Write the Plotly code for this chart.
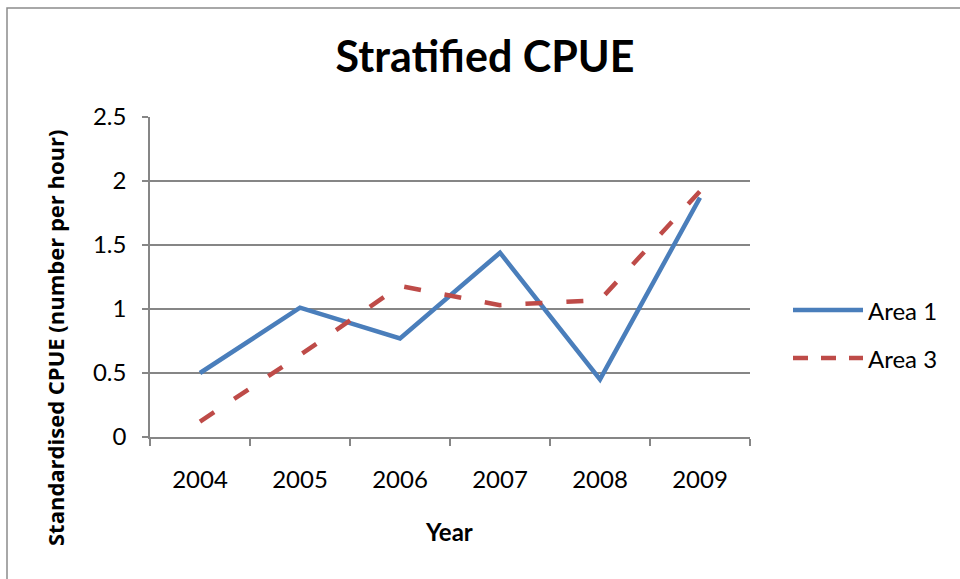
import plotly.graph_objects as go

# Survey years and standardised CPUE per area
years = ["2004", "2005", "2006", "2007", "2008", "2009"]
area1 = [0.50, 1.01, 0.77, 1.44, 0.45, 1.87]
area3 = [0.12, 0.64, 1.18, 1.03, 1.07, 1.92]
y_ticks = [0, 0.5, 1, 1.5, 2, 2.5]
y_tick_text = ["0", "0.5", "1", "1.5", "2", "2.5"]

BLUE = "#4A7EBB"
RED = "#BE4B48"
GRID = "#868686"
FONT = "Lato"

# plot area in pixels: x 150..750, y 117..437
L, R, T, B = 150, 750, 117, 437
W, H = R - L, B - T


def px_x(x):
    return (x - L) / W


def px_y(y):
    return (B - y) / H


fig = go.Figure()
fig.add_trace(go.Scatter(x=years, y=area1, mode="lines", name="Area 1",
                         line=dict(color=BLUE, width=4.5)))
fig.add_trace(go.Scatter(x=years, y=area3, mode="lines", name="Area 3",
                         line=dict(color=RED, width=4.5, dash="17px,24px")))

fig.update_layout(
    width=960, height=579,
    margin=dict(l=L, r=960 - R, t=T, b=579 - B),
    paper_bgcolor="white", plot_bgcolor="white",
    showlegend=False,
    font=dict(family=FONT, color="black"),
    title=dict(text="<b>Stratified CPUE</b>", x=485 / 960, xref="container",
               xanchor="center", y=1 - 57 / 579, yanchor="middle",
               font=dict(family=FONT, size=43, color="black")),
    xaxis=dict(type="category", range=[-0.5, 5.5], showgrid=False,
               showline=True, linecolor=GRID, linewidth=1.5,
               ticks="outside", ticklen=7, tickcolor=GRID, tickwidth=1.5,
               tickson="boundaries", ticklabelstandoff=20,
               tickfont=dict(family=FONT, size=24)),
    yaxis=dict(range=[0, 2.5], tickvals=y_ticks, ticktext=y_tick_text,
               showgrid=True, gridcolor=GRID, gridwidth=1.5,
               showline=True, linecolor=GRID, linewidth=1.5,
               zeroline=False,
               ticks="outside", ticklen=6, tickcolor=GRID, tickwidth=1.5,
               ticklabelstandoff=11,
               tickfont=dict(family=FONT, size=24)),
)

# axis titles
fig.add_annotation(xref="paper", yref="paper", x=px_x(449), y=px_y(531),
                   xanchor="center", yanchor="middle", showarrow=False,
                   text="<b>Year</b>", font=dict(family=FONT, size=24, color="black"))
fig.add_annotation(xref="paper", yref="paper", x=px_x(55), y=px_y(338),
                   xanchor="center", yanchor="middle", showarrow=False, textangle=-90,
                   text="<b>Standardised CPUE (number per hour)</b>",
                   font=dict(family="Open Sans", size=22, color="black"))

# outer chart frame
fig.add_shape(type="rect", xref="paper", yref="paper",
              x0=px_x(7), x1=px_x(975), y0=px_y(590), y1=px_y(8),
              line=dict(color="#8C8C8C", width=1.5), layer="below")

# legend: line samples with labels
legend_items = [("Area 1", BLUE, "solid", 310), ("Area 3", RED, "15px,13px", 358)]
for label, color, dash, ypix in legend_items:
    fig.add_shape(type="line", xref="paper", yref="paper",
                  x0=px_x(793), x1=px_x(863), y0=px_y(ypix), y1=px_y(ypix),
                  line=dict(color=color, width=4.5, dash=dash))
    fig.add_annotation(xref="paper", yref="paper", x=px_x(866), y=px_y(ypix),
                       xanchor="left", yanchor="middle", showarrow=False,
                       text=label, font=dict(family=FONT, size=24, color="black"))

fig.write_html("out.html")
